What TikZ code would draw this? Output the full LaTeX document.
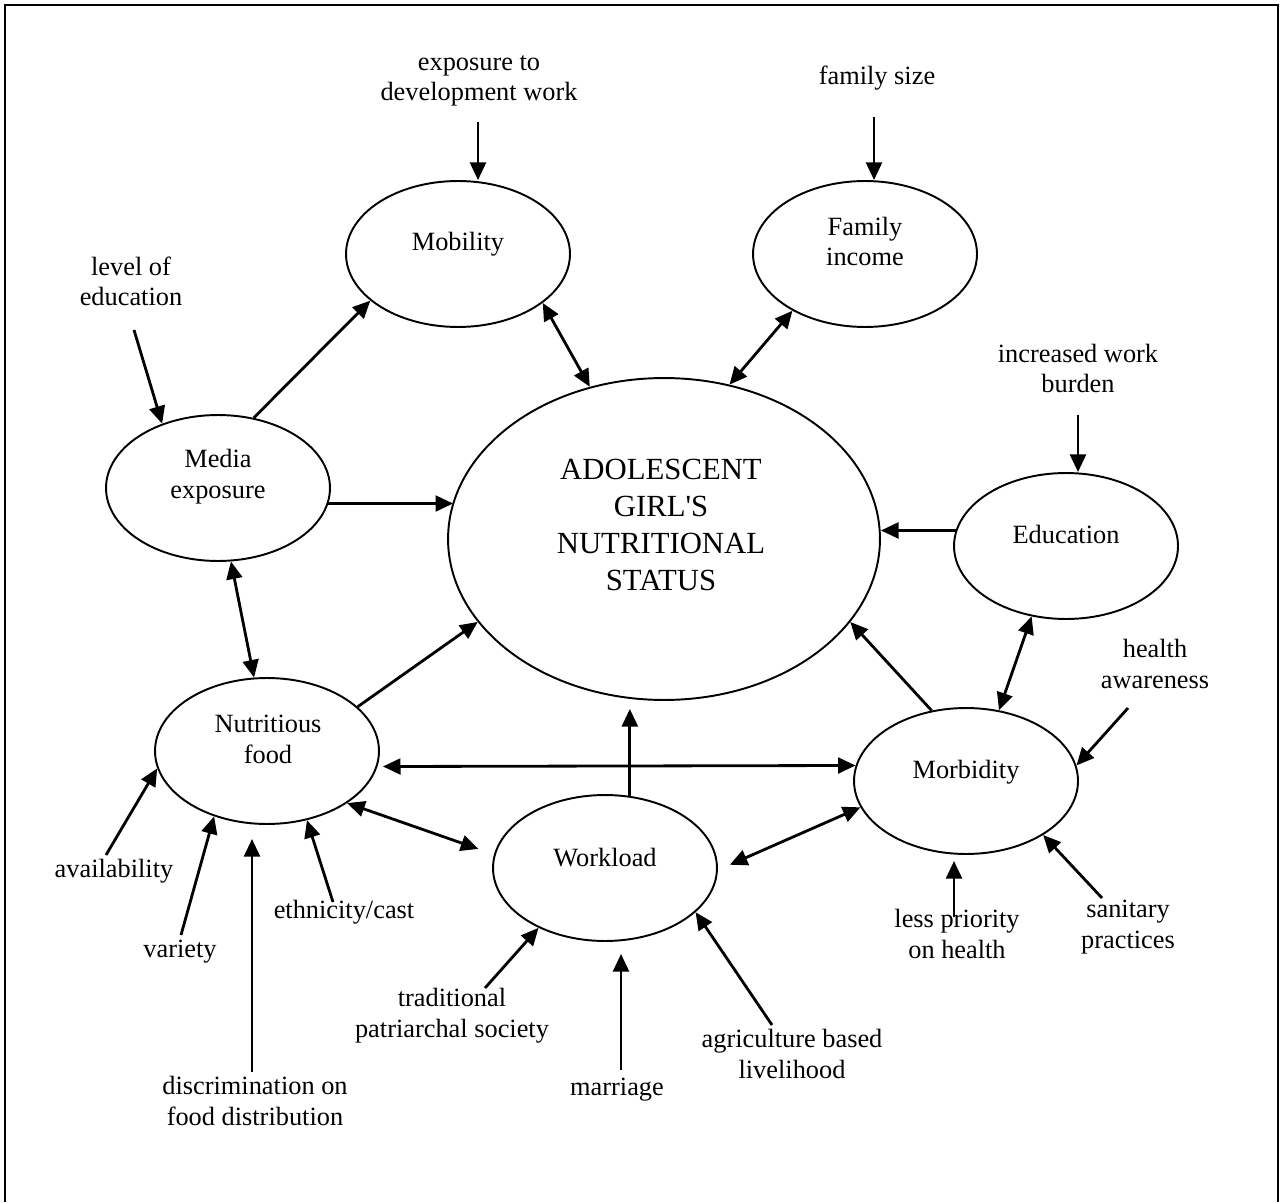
\documentclass[tikz,border=0pt]{standalone}
\usepackage{fontspec}
\setmainfont{Liberation Serif}[Ligatures=TeXOff]
\usetikzlibrary{shapes.geometric,arrows.meta,calc}
\begin{document}
\begin{tikzpicture}[x=0.02cm,y=-0.02cm,
 ell/.style={draw, ellipse, line width=1.1pt, minimum width=4.48cm, minimum height=2.92cm, inner sep=0pt},
 bigell/.style={draw, ellipse, line width=1.1pt, minimum width=8.64cm, minimum height=6.44cm, inner sep=0pt},
 lbl/.style={font=\fontsize{15}{17.6}\selectfont, align=center, anchor=base, inner sep=0pt},
 biglbl/.style={font=\fontsize{17.5}{21}\selectfont, align=center, anchor=base, inner sep=0pt},
 arr/.style={line width=1.6pt, -{Triangle[length=10pt,width=9pt]}},
 darr/.style={line width=1.6pt, {Triangle[length=10pt,width=9pt]}-{Triangle[length=10pt,width=9pt]}},
]
\useasboundingbox (0,0) rectangle (1283,1202);
\draw[line width=1.2pt] (5,1202) -- (5,5) -- (1278,5) -- (1278,1202);

% ellipses
\node[ell] (mob) at (458,254) {};
\node[ell] (fam) at (865,254) {};
\node[ell] (media) at (218,488) {};
\node[bigell] (main) at (664,539) {};
\node[ell] (edu) at (1066,546) {};
\node[ell] (morb) at (966,781) {};
\node[ell] (food) at (267,751) {};
\node[ell] (work) at (605,868) {};

% texts in ellipses (anchor = baseline of last line)
\node[lbl] (tMob) at (458,251) {Mobility};
\node[lbl] (tFam) at (865,266) {Family\\income};
\node[lbl] (tMedia) at (218,498) {Media\\exposure};
\node[biglbl] (tMain) at (661,590) {ADOLESCENT\\GIRL'S\\NUTRITIONAL\\STATUS};
\node[lbl] (tEdu) at (1066,543) {Education};
\node[lbl] (tFood) at (268,763) {Nutritious\\food};
\node[lbl] (tMorb) at (966,778) {Morbidity};
\node[lbl] (tWork) at (605,866) {Workload};

% outer labels
\node[lbl] (lExp) at (479,101) {exposure to\\development work};
\node[lbl] (lFam) at (877,85) {family size};
\node[lbl] (lLev) at (131,306) {level of\\education};
\node[lbl] (lInc) at (1078,393) {increased work\\burden};
\node[lbl] (lHea) at (1155,688) {health\\awareness};
\node[lbl] (lLes) at (957,958) {less priority\\on health};
\node[lbl] (lSan) at (1128,948) {sanitary\\practices};
\node[lbl] (lAva) at (114,877) {availability};
\node[lbl] (lVar) at (180,957) {variety};
\node[lbl] (lEth) at (344,918) {ethnicity/cast};
\node[lbl] (lDis) at (255,1125) {discrimination on\\food distribution};
\node[lbl] (lTra) at (452,1037) {traditional\\patriarchal society};
\node[lbl] (lMar) at (617,1095) {marriage};
\node[lbl] (lAgr) at (792,1078) {agriculture based\\livelihood};

% connectors between ellipses
\draw[arr] (media.63.1) -- (mob.208.5);
\draw[darr] (mob.330.7) -- (main.116.9);
\draw[darr] (fam.218.5) -- (main.67.8);
\draw[arr, shorten >=-0.12cm] (media.352.4) -- (media.352.4 -| main.west);
\draw[arr] (edu.172.9) -- (edu.172.9 -| main.east);
\draw[darr] (media.280.6) -- (food.100.7);
\draw[arr] (food.26.1) -- (main.204);
\draw[darr, shorten <=0.11cm] (food.352.1) -- (morb.172.9);
\draw[darr, shorten >=0.33cm] (food.327.9) -- (work.173.3);
\draw[arr, shorten >=0.16cm] (work.71.3) -- (work.71.3 |- main.south);
\draw[arr] (morb.116.9) -- (main.336.8);
\draw[darr] (morb.65.3) -- (edu.244.9);
\draw[darr, shorten <=0.26cm] (work.359.1) -- (morb.194.9);

% external influences
\coordinate (cExp) at (478,122);
\coordinate (cFam) at (874,117);
\coordinate (cLev) at (134,330);
\coordinate (cInc) at (1078,415);
\coordinate (cHea) at (1128,708);
\coordinate (cLes) at (954,917);
\coordinate (cSan) at (1102,898);
\coordinate (cAva) at (106,855);
\coordinate (cVar) at (181,935);
\coordinate (cDis) at (252,1072);
\coordinate (cEth) at (333,902);
\coordinate (cTra) at (485,988);
\coordinate (cMar) at (621,1070);
\coordinate (cAgr) at (772,1025);

\draw[arr] (cExp) -- (cExp |- mob.north);
\draw[arr] (cFam) -- (cFam |- fam.north);
\draw[arr] (cLev) -- (media.131.3);
\draw[arr] (cInc) -- (cInc |- edu.north);
\draw[arr] (cHea) -- (morb.8.1);
\draw[arr, shorten >=0.12cm] (cLes) -- (cLes |- morb.south);
\draw[arr] (cSan) -- (morb.325.5);
\draw[arr] (cAva) -- (food.189.5);
\draw[arr] (cVar) -- (food.231.3);
\draw[arr, shorten >=0.28cm] (cDis) -- (cDis |- food.south);
\draw[arr] (cEth) -- (food.300.8);
\draw[arr] (cTra) -- (work.222.4);
\draw[arr, shorten >=0.24cm] (cMar) -- (cMar |- work.south);
\draw[arr] (cAgr) -- (work.334.8);
\end{tikzpicture}
\end{document}
